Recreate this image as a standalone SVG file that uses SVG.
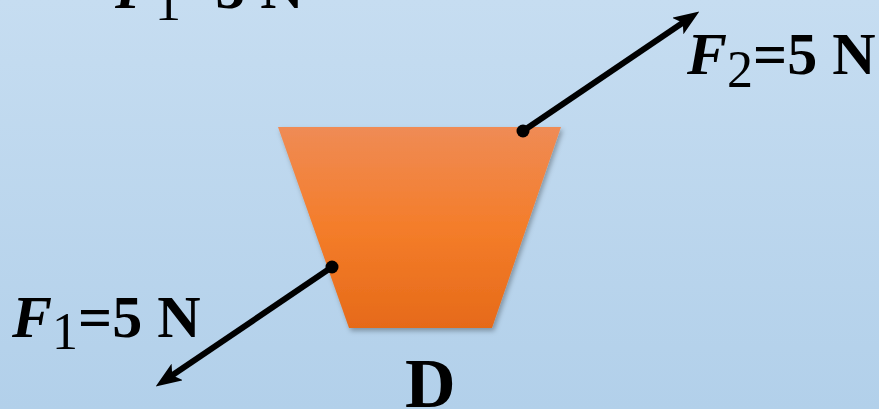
<svg xmlns="http://www.w3.org/2000/svg" width="879" height="409" viewBox="0 0 879 409">
  <defs>
    <linearGradient id="bg" x1="0" y1="0" x2="0" y2="1">
      <stop offset="0" stop-color="#c6ddf1"/>
      <stop offset="1" stop-color="#b2d0ea"/>
    </linearGradient>
    <linearGradient id="body" x1="0" y1="0" x2="0" y2="1">
      <stop offset="0" stop-color="#ef8b55"/>
      <stop offset="0.5" stop-color="#f47d2a"/>
      <stop offset="1" stop-color="#e66a19"/>
    </linearGradient>
    <filter id="shadow" x="-10%" y="-10%" width="125%" height="125%">
      <feDropShadow dx="2" dy="3" stdDeviation="2.5" flood-color="#000" flood-opacity="0.3"/>
    </filter>
    <marker id="head" markerUnits="userSpaceOnUse" markerWidth="26" markerHeight="20" viewBox="0 0 26 20" refX="14" refY="10" orient="auto">
      <path d="M0,0 L26,10 L0,20 L6,10 Z" fill="#000"/>
    </marker>
    <style>
      .lbl { font-family: "Liberation Serif", "Times New Roman", serif; font-size: 60px; fill: #000; }
      .b { font-weight: bold; }
      .bi { font-weight: bold; font-style: italic; }
      .sub { font-weight: normal; font-size: 52px; }
      .force { stroke: #000; stroke-width: 6; fill: none; marker-end: url(#head); }
      .dot { fill: #000; }
    </style>
  </defs>
  <rect x="0" y="0" width="879" height="409" fill="url(#bg)"/>

  <g id="partial-label">
    <text class="lbl" x="115" y="8"><tspan class="bi">F</tspan><tspan class="sub" dy="12">1</tspan><tspan class="b" dy="-12">=5 N</tspan></text>
  </g>

  <g id="block-D">
    <polygon points="278,127 561,127 492,328 349,328" fill="url(#body)" filter="url(#shadow)"/>
    <text class="lbl b" x="405" y="407" style="font-size:70px">D</text>
  </g>

  <g id="connectors">
    <line class="force" x1="523" y1="131" x2="689.4" y2="18.2"/>
    <circle class="dot" cx="523" cy="131" r="6.5"/>
    <line class="force" x1="332" y1="267" x2="165.6" y2="379.8"/>
    <circle class="dot" cx="332" cy="267" r="6.5"/>
  </g>

  <g id="label-F2">
    <text class="lbl" x="687" y="74"><tspan class="bi">F</tspan><tspan class="sub" dy="13">2</tspan><tspan class="b" dy="-13">=5 N</tspan></text>
  </g>

  <g id="label-F1">
    <text class="lbl" x="12" y="337"><tspan class="bi">F</tspan><tspan class="sub" dy="12">1</tspan><tspan class="b" dy="-12">=5 N</tspan></text>
  </g>
</svg>
